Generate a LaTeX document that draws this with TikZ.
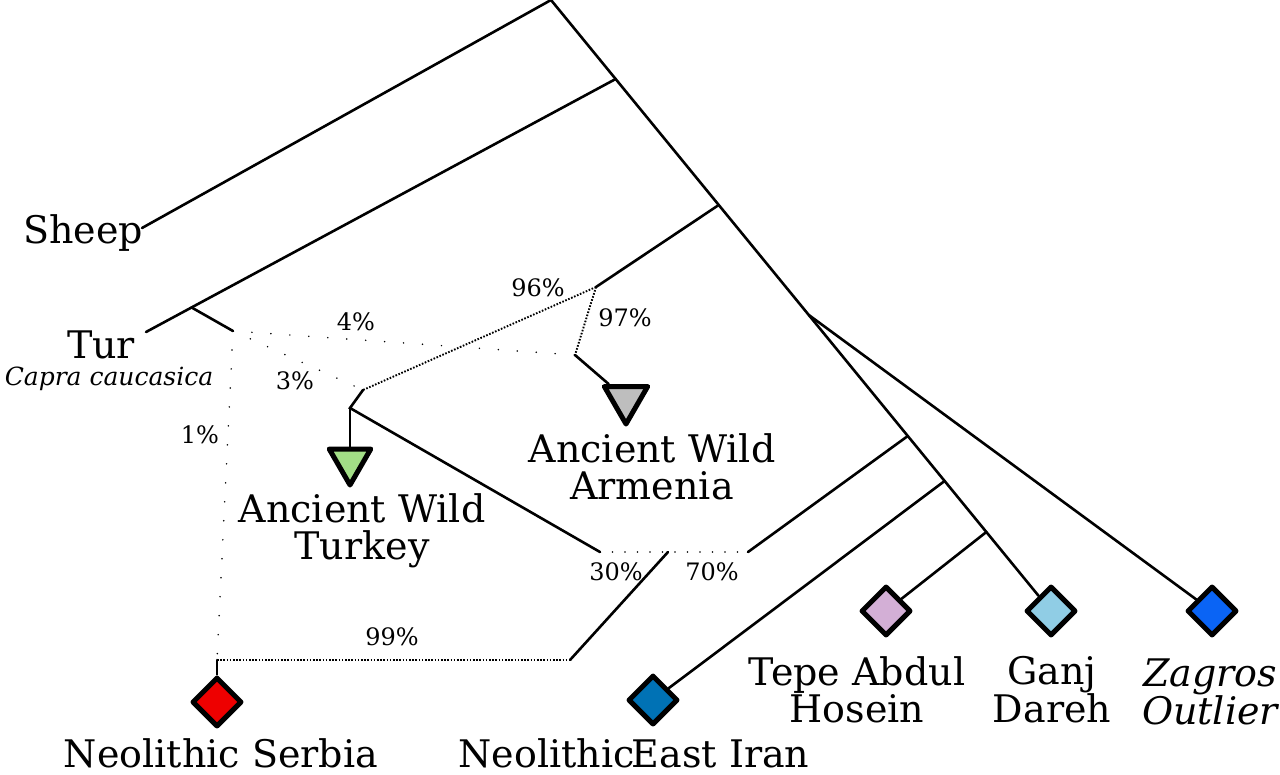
\documentclass[tikz,border=0pt]{standalone}
\usepackage{fontspec}
\setmainfont{DejaVu Serif}
\usetikzlibrary{shapes.geometric,calc}
\definecolor{serbiared}{HTML}{EE0000}
\definecolor{iranblue}{HTML}{0072B5}
\definecolor{tepelilac}{HTML}{D3AFD6}
\definecolor{ganjblue}{HTML}{90CDE5}
\definecolor{zagblue}{HTML}{0A64F5}
\definecolor{armgray}{HTML}{BEBEBE}
\definecolor{turkgreen}{HTML}{A2DE86}
\tikzset{
  branch/.style={line width=2.6pt, line cap=round},
  sparsedot/.style={line width=1.7pt, line cap=round, dash pattern=on 0pt off 19pt},
  mixdot/.style={line width=1.7pt, line cap=round, dash pattern=on 0pt off 12.5pt},
  densedot/.style={line width=1.9pt, dash pattern=on 1.6pt off 1.6pt},
  sample/.style={diamond, draw, line width=5pt, inner sep=0pt, minimum size=50pt, line join=round},
  wildtri/.style={regular polygon, regular polygon sides=3, shape border rotate=180, draw, line width=5pt, inner sep=0pt, minimum size=50pt, line join=round},
  biglabel/.style={font=\fontsize{38}{37}\selectfont, align=center, inner sep=0pt},
  pct/.style={font=\fontsize{24}{26}\selectfont, inner sep=0pt},
}
\begin{document}
\begin{tikzpicture}[x=1pt,y=-1pt]
\useasboundingbox (0,0) rectangle (1280,774);
% trunk end points and junctions
\coordinate (root) at (551,0);
\coordinate (gend) at (1051,611);
\coordinate (j612) at ($(root)!0.1293!(gend)$);
\coordinate (j714) at ($(root)!0.3355!(gend)$);
\coordinate (j808) at ($(root)!0.5155!(gend)$);
\coordinate (j903) at ($(root)!0.7136!(gend)$);
\coordinate (j940) at ($(root)!0.7872!(gend)$);
\coordinate (j980) at ($(root)!0.8707!(gend)$);
\coordinate (sheepend) at (142,228);
\coordinate (turend) at (146,332);
\coordinate (jtur) at ($(j612)!0.903!(turend)$);
\coordinate (tdot) at (233,331);
\coordinate (j96) at (596,287);
\coordinate (j97) at (575,355);
\coordinate (jtk) at (363,390);
\coordinate (jtk2) at (350,408);
\coordinate (j30) at (600,552);
\coordinate (j70) at (748,552);
\coordinate (jmix) at (668,552);
\coordinate (j99) at (217,660);
\coordinate (j99r) at (570,660);

% shapes
\node[wildtri, fill=armgray] (armtri) at (626,399) {};
\node[wildtri, fill=turkgreen, minimum size=48pt] (turtri) at (350,461) {};
\node[sample, fill=serbiared] (serbia) at (217,702) {};
\node[sample, fill=iranblue] (eastiran) at (653,700) {};
\node[sample, fill=tepelilac] (tepe) at (886,611) {};
\node[sample, fill=ganjblue] (ganj) at (1051,611) {};
\node[sample, fill=zagblue] (zagros) at (1212,611) {};

% labels
\node[biglabel] (lsheep) at (83,233) {Sheep};
\node[biglabel] (ltur) at (101,345) {Tur};
\node[pct, font=\fontsize{25}{26}\selectfont\itshape] (lcapra) at (109,379) {Capra caucasica};
\node[biglabel] (lturkey) at (362,531) {Ancient Wild\\Turkey};
\node[biglabel] (larmenia) at (652,467) {Ancient Wild\\Armenia};
\node[biglabel] (lserbia) at (221,753) {Neolithic Serbia};
\node[biglabel] (liran) at (634,753) {Neolithic\hspace{-3pt}East Iran};
\node[biglabel] (ltepe) at (857,690) {Tepe Abdul\\Hosein};
\node[biglabel] (lganj) at (1052,690) {Ganj\\Dareh};
\node[biglabel, font=\fontsize{38}{37}\selectfont\itshape] (lzag) at (1210,692) {Zagros\\Outlier};
\node[pct] (p96) at (538,288) {96\%};
\node[pct] (p97) at (625,318) {97\%};
\node[pct] (p4) at (356,322) {4\%};
\node[pct] (p3) at (295,381) {3\%};
\node[pct] (p1) at (200,435) {1\%};
\node[pct] (p30) at (616,572) {30\%};
\node[pct] (p70) at (712,572) {70\%};
\node[pct] (p99) at (392,637) {99\%};

% solid branches
\draw[branch] (root) -- (ganj);
\draw[branch] (root) -- (sheepend);
\draw[branch] (j612) -- (turend);
\draw[branch] (jtur) -- (tdot);
\draw[branch] (j714) -- (j96);
\draw[branch] (j97) -- (armtri);
\draw[branch] (jtk) -- (jtk2) -- (j30);
\draw[branch] (jtk2) -- (turtri);
\draw[branch] (j808) -- (zagros);
\draw[branch] (j903) -- (j70);
\draw[branch] (j940) -- (eastiran);
\draw[branch] (j980) -- (tepe);
\draw[branch] (j99r) -- (jmix);
\draw[branch] (j99) -- (serbia);

% admixture edges
\draw[densedot] (j96) -- (jtk);
\draw[densedot] (j96) -- (j97);
\draw[densedot] (j99) -- (j99r);
\draw[sparsedot] (tdot) -- (j97);
\draw[sparsedot] (tdot) -- (jtk);
\draw[sparsedot] (tdot) -- (j99);
\draw[mixdot] (j30) -- (j70);
\end{tikzpicture}
\end{document}
